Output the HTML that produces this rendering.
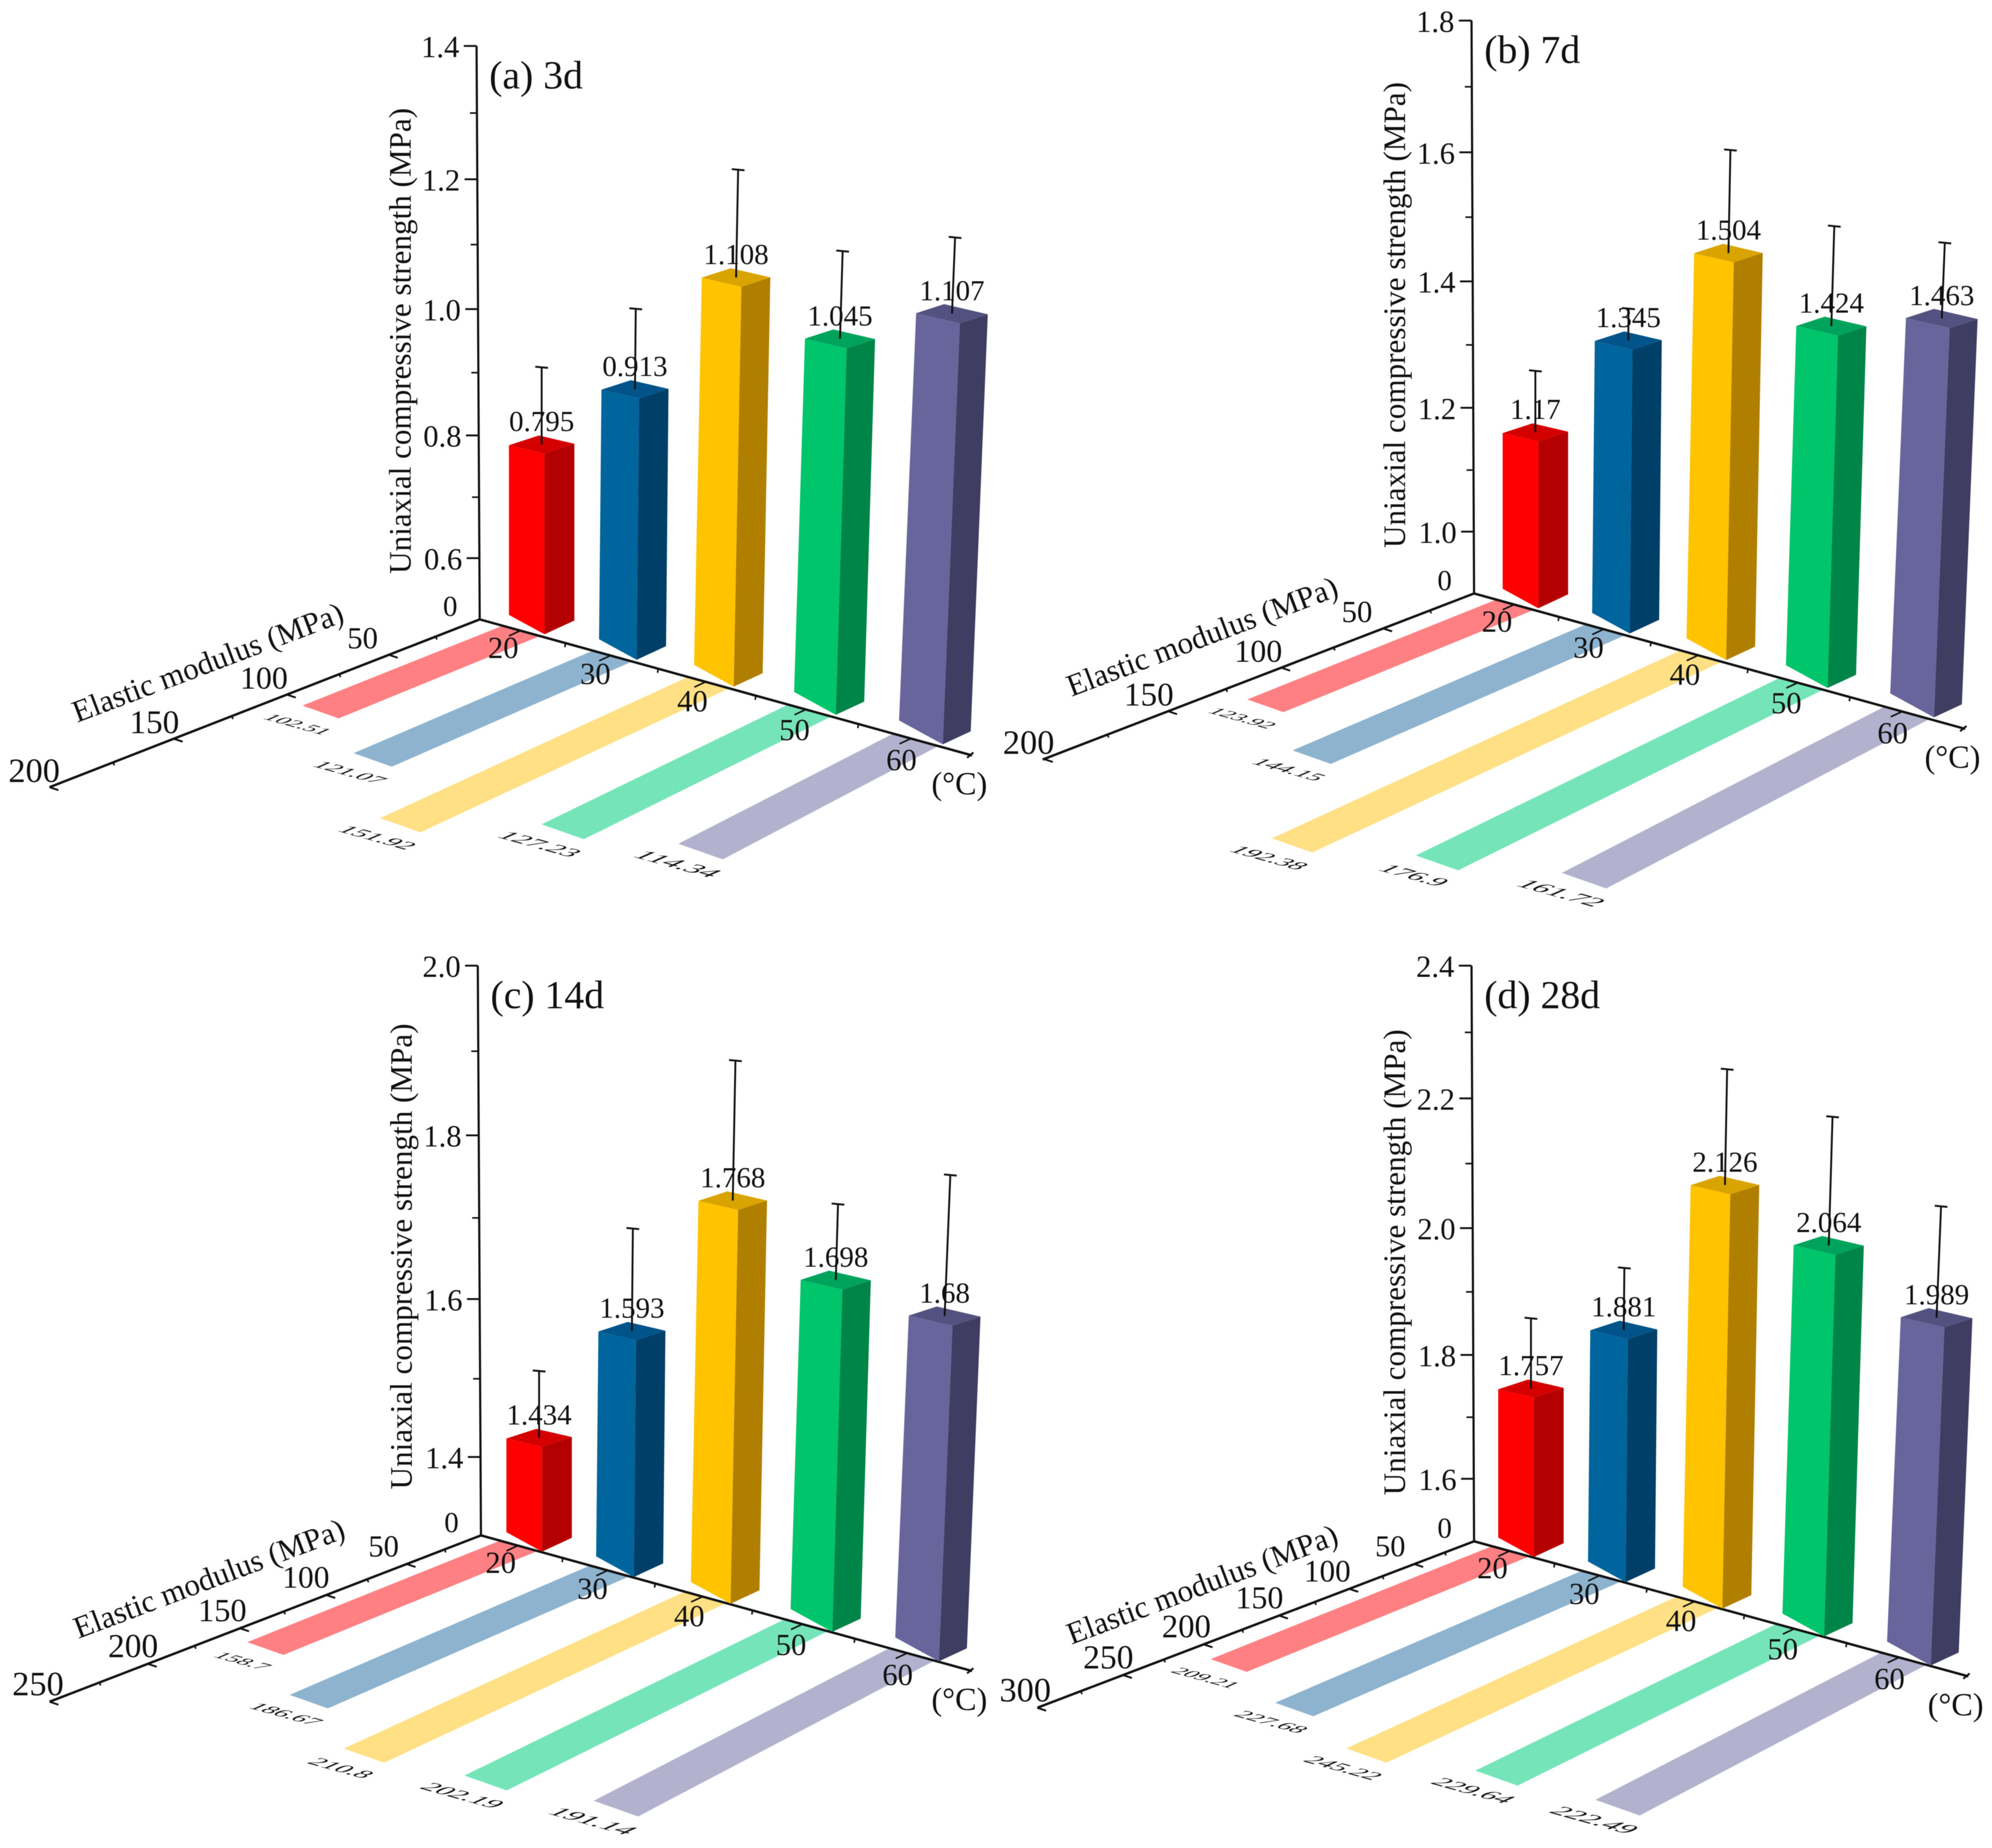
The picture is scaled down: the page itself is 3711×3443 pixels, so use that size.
<!DOCTYPE html>
<html lang="en">
<head>
<meta charset="utf-8">
<title>Uniaxial compressive strength and elastic modulus by temperature</title>
<style>
html,body{margin:0;padding:0;background:#fff;}
svg{display:block;font-family:"Liberation Serif",serif;fill:#111;filter:blur(0.6px);}
</style>
</head>
<body>
<svg id="chart" xmlns="http://www.w3.org/2000/svg" width="3711" height="3443" viewBox="0 0 3711 3443"></svg>
<script>
// ---- Data ----
const temperatures = [20, 30, 40, 50, 60];

const strength3d = [0.795, 0.913, 1.108, 1.045, 1.107];
const error3d = [0.123, 0.123, 0.156, 0.125, 0.105];
const modulus3d = [102.51, 121.07, 151.92, 127.23, 114.34];
const yTicks3d = ["0.6", "0.8", "1.0", "1.2", "1.4"];
const modTicks3d = [50, 100, 150, 200];

const strength7d = [1.17, 1.345, 1.504, 1.424, 1.463];
const error7d = [0.098, 0.049, 0.151, 0.144, 0.106];
const modulus7d = [123.92, 144.15, 192.38, 176.9, 161.72];
const yTicks7d = ["1.0", "1.2", "1.4", "1.6", "1.8"];
const modTicks7d = [50, 100, 150, 200];

const strength14d = [1.434, 1.593, 1.768, 1.698, 1.68];
const error14d = [0.085, 0.123, 0.158, 0.085, 0.153];
const modulus14d = [158.7, 186.67, 210.8, 202.19, 191.14];
const yTicks14d = ["1.4", "1.6", "1.8", "2.0"];
const modTicks14d = [50, 100, 150, 200, 250];

const strength28d = [1.757, 1.881, 2.126, 2.064, 1.989];
const error28d = [0.112, 0.095, 0.168, 0.183, 0.156];
const modulus28d = [209.21, 227.68, 245.22, 229.64, 222.49];
const yTicks28d = ["1.6", "1.8", "2.0", "2.2", "2.4"];
const modTicks28d = [50, 100, 150, 200, 250, 300];

const frontColors = ["#FE0000", "#00659D", "#FFC300", "#00C56B", "#67659B"];
const sideColors = ["#B40000", "#003F68", "#B07F00", "#008548", "#3F3E62"];
const topColors = ["#D40000", "#00548A", "#D9A300", "#00A35C", "#53517F"];
const ribbonColors = ["#FF8082", "#8DB3CE", "#FFE084", "#75E5B9", "#B3B2CE"];

// ---- Panel axis calibration (layout units of a 1568-wide quadrant) ----
const panels = [
  {key:"a", title:"(a) 3d", strength:strength3d, errors:error3d, modulus:modulus3d, yTicks:yTicks3d, modTicks:modTicks3d,
   ox:0, oy:0, hgt:1720, O:[755,1052], top:[750,78], xEnd:[1530,1283], zEnd:[78,1337], firstH:104, curve:0.055, x20:857, step:145, base:-5, depth:0.11, ma:2.685, mb:0.0035, f0:0.035, labDx:0, labDy:0},
  {key:"b", title:"(b) 7d", strength:strength7d, errors:error7d, modulus:modulus7d, yTicks:yTicks7d, modTicks:modTicks7d,
   ox:1856, oy:0, hgt:1720, O:[752,1008], top:[748,35], xEnd:[1525,1238], zEnd:[73,1290], firstH:105, curve:0.041, x20:853, step:144, base:-5, depth:0.105, ma:2.685, mb:0.0035, f0:0.035, labDx:0, labDy:0},
  {key:"c", title:"(c) 14d", strength:strength14d, errors:error14d, modulus:modulus14d, yTicks:yTicks14d, modTicks:modTicks14d,
   ox:0, oy:1720, hgt:1723, O:[757,1038], top:[752,72], xEnd:[1530,1268], zEnd:[78,1320], firstH:133, curve:0.054, x20:853, step:144.5, base:-1, depth:0.115, ma:2.246, mb:0.00188, f0:0.005, labDx:6, labDy:-2},
  {key:"d", title:"(d) 28d", strength:strength28d, errors:error28d, modulus:modulus28d, yTicks:yTicks28d, modTicks:modTicks28d,
   ox:1856, oy:1720, hgt:1723, O:[752,1048], top:[748,72], xEnd:[1530,1277], zEnd:[65,1330], firstH:106, curve:0.046, x20:846, step:144.5, base:-1, depth:0.105, ma:1.80, mb:0.00164, f0:0.005, labDx:5, labDy:-2}
];

const NS = "http://www.w3.org/2000/svg";
const svg = document.getElementById("chart");
const QUAD = 1568;
const FONT_TICK = 57;

function sx(p, x) { return p.ox + x * (1856 / QUAD); }
function sy(p, y) { return p.oy + y * (p.hgt / QUAD); }
function ptStr(p, pts) { return pts.map(function (q) { return sx(p, q[0]).toFixed(1) + "," + sy(p, q[1]).toFixed(1); }).join(" "); }

function makePoly(parent, p, pts, fill) {
  const el = document.createElementNS(NS, "polygon");
  el.setAttribute("points", ptStr(p, pts));
  el.setAttribute("fill", fill);
  parent.appendChild(el);
  return el;
}
function makeLine(parent, p, a, b, w) {
  const el = document.createElementNS(NS, "line");
  el.setAttribute("x1", sx(p, a[0]).toFixed(1));
  el.setAttribute("y1", sy(p, a[1]).toFixed(1));
  el.setAttribute("x2", sx(p, b[0]).toFixed(1));
  el.setAttribute("y2", sy(p, b[1]).toFixed(1));
  el.setAttribute("stroke", "#111");
  el.setAttribute("stroke-width", w);
  parent.appendChild(el);
  return el;
}
// text centred on a layout point; rot in degrees
function makeText(parent, p, x, y, str, size, anchor, rot) {
  const el = document.createElementNS(NS, "text");
  const px = sx(p, x), py = sy(p, y);
  el.setAttribute("x", px.toFixed(1));
  el.setAttribute("y", (py + size * 0.33).toFixed(1));
  el.setAttribute("font-size", size);
  el.setAttribute("text-anchor", anchor || "middle");
  if (rot) { el.setAttribute("transform", "rotate(" + rot + " " + px.toFixed(1) + " " + py.toFixed(1) + ")"); }
  el.textContent = str;
  parent.appendChild(el);
  return el;
}
// text lying on the floor plane: baseline along the temperature axis, glyph "up" along the modulus axis
function makeFloorText(parent, p, x, y, str, size) {
  const el = document.createElementNS(NS, "text");
  const px = sx(p, x), py = sy(p, y);
  const base = 15.4 * Math.PI / 180, up = 23 * Math.PI / 180, squash = 0.8;
  const a = Math.cos(base), b = Math.sin(base);
  const c = -Math.cos(up) * squash, d = Math.sin(up) * squash;
  el.setAttribute("x", "0");
  el.setAttribute("y", (size * 0.33).toFixed(1));
  el.setAttribute("font-size", size);
  el.setAttribute("text-anchor", "middle");
  el.setAttribute("transform", "matrix(" + [a, b, c, d, px, py].map(function (n) { return n.toFixed(4); }).join(" ") + ")");
  el.textContent = str;
  parent.appendChild(el);
  return el;
}
function makeGroup(parent) {
  const g = document.createElementNS(NS, "g");
  parent.appendChild(g);
  return g;
}

// ---- Axis functions ----
function tempU(T) { return (T - temperatures[0]) / (temperatures[1] - temperatures[0]); }
function cornerX(p, T) { const u = tempU(T); return p.x20 + p.step * u + 3.9 * u * (u - 1); }
function tempAxisY(p, x) { return p.O[1] + (x - p.O[0]) * (p.xEnd[1] - p.O[1]) / (p.xEnd[0] - p.O[0]); }
function modDx(p, m) { return m * (p.ma + p.mb * m); }
function heightOf(p, v) {
  const v0 = parseFloat(p.yTicks[0]);
  const vTop = parseFloat(p.yTicks[p.yTicks.length - 1]);
  const H = (p.O[1] - p.top[1]) - p.firstH;
  if (v <= v0) { return Math.max(0, v / v0) * p.firstH; }
  const u = (v - v0) / (vTop - v0);
  return p.firstH + H * (u + p.curve * u * (u - 1));
}
function depthScale(p, x) { return 1 + p.depth * (x - p.x20) / 627; }
function yAxisPoint(p, v) {
  const h = heightOf(p, v);
  const f = h / (p.O[1] - p.top[1]);
  return [p.O[0] + (p.top[0] - p.O[0]) * f, p.O[1] - h];
}

function drawAxes(p, g) {
  const yAxis = makeLine(g, p, p.O, p.top, 4);
  
  
  const tAxis = makeLine(g, p, p.O, p.xEnd, 4.5);
  
  
  const mAxis = makeLine(g, p, p.O, p.zEnd, 4.5);
  
  

  const tEndMark = makeLine(g, p, [p.xEnd[0] - 8, p.xEnd[1] + 4], [p.xEnd[0] + 2, p.xEnd[1] - 5], 3.5);
  
  

  // strength ticks
  p.yTicks.forEach(function (label, i) {
    const v = parseFloat(label);
    const a = yAxisPoint(p, v);
    const t = makeLine(g, p, a, [a[0] - 20, a[1]], 3.5);
    
    
    const lab = makeText(g, p, a[0] - 27, a[1] + 2, label, FONT_TICK, "end");
    
    
    if (i < p.yTicks.length - 1) {
      const next = parseFloat(p.yTicks[i + 1]);
      const m = yAxisPoint(p, (v + next) / 2);
      const mt = makeLine(g, p, m, [m[0] - 11, m[1]], 3);
      
      
    }
  });
  const zero = makeText(g, p, p.O[0] - 35, p.O[1] - 22, "0", FONT_TICK - 3, "end");
  
  

  // modulus ticks
  const mSlope = (p.zEnd[1] - p.O[1]) / (p.O[0] - p.zEnd[0]);
  const mMax = p.modTicks[p.modTicks.length - 1];
  function modPoint(m) { const d = modDx(p, m); return [p.O[0] - d, p.O[1] + d * mSlope]; }
  p.modTicks.forEach(function (m, i) {
    const a = modPoint(m);
    const t = makeLine(g, p, a, [a[0] + 14, a[1] + 5], 3.5);
    
    
    const prev = i === 0 ? 0 : p.modTicks[i - 1];
    const mid = modPoint((m + prev) / 2);
    const mt = makeLine(g, p, mid, [mid[0] + 2, mid[1] + 5], 3);
    
    
    const lab = makeText(g, p, a[0] - (24 + 0.032 * (a[0] - 70)) + p.labDx, a[1] - 28 + p.labDy, String(m), 55 + 9 * m / mMax);
    
    
  });

  // temperature ticks
  temperatures.forEach(function (T, i) {
    const cx = cornerX(p, T);
    const tx = cx - (38 + 3 * i);
    const a = [tx, tempAxisY(p, tx)];
    const t = makeLine(g, p, a, [a[0] - 18, a[1] + 9], 3);
    
    
    const lab = makeText(g, p, cx - 65, tempAxisY(p, cx) + 18 + i, String(T), FONT_TICK);
    
    
    if (i < temperatures.length - 1) {
      const nx = cornerX(p, temperatures[i + 1]) - (38 + 3 * (i + 1));
      const mx = (tx + nx) / 2;
      const my = tempAxisY(p, mx);
      const mt = makeLine(g, p, [mx, my], [mx - 1, my + 7], 3);
      
      
    }
  });

  const unit = makeText(g, p, p.xEnd[0] - 20, p.xEnd[1] + 48, "(°C)", 60);
  
  

  const yTitle = makeText(g, p, p.O[0] - 125, p.O[1] - 473, "Uniaxial compressive strength (MPa)", 58, "middle", -90);
  
  

  const zTitle = makeText(g, p, p.O[0] - 428, p.O[1] + 73, "Elastic modulus (MPa)", 58, "middle", -20.7);
  
  

  const panelLabel = makeText(g, p, p.top[0] + 20, p.top[1] + 50, p.title, 74, "start");
  
  
}

function ribbonEnd(p, T, i) {
  const Ax = cornerX(p, T) - 7;
  const Ay = tempAxisY(p, Ax);
  const dx = modDx(p, p.modulus[i]) * (1 + p.f0 - 0.014 * i);
  const dy = dx * (0.439 + 0.031 * i);
  return {Ax: Ax, Ay: Ay, Dx: Ax - dx + 6, Dy: Ay - 2 + dy, we: 57 + 3.2 * i};
}

function drawRibbons(p, g) {
  temperatures.forEach(function (T, i) {
    const e = ribbonEnd(p, T, i);
    const Bx = e.Ax - (59 + 3 * i);
    const r = makePoly(g, p, [[e.Ax, e.Ay], [Bx, tempAxisY(p, Bx)], [e.Dx - e.we, e.Dy - 0.38 * e.we], [e.Dx, e.Dy]], ribbonColors[i]);
    
    
  });
}

function drawRibbonLabels(p, g) {
  temperatures.forEach(function (T, i) {
    const e = ribbonEnd(p, T, i);
    const mx = e.Dx - e.we / 2;
    const my = e.Dy - 0.19 * e.we;
    const lab = makeFloorText(g, p, mx - 36, my + 21, String(p.modulus[i]), 43 + 3.2 * i);
    
    
  });
}

function drawBars(p, g) {
  temperatures.forEach(function (T, i) {
    const v = p.strength[i];
    const Fx = cornerX(p, T);
    const Fy = tempAxisY(p, Fx) + p.base;
    const s = depthScale(p, Fx);
    const k = (Fx - p.x20) * 6e-5;
    const h = heightOf(p, v) * s;
    const Tx = Fx + k * h, Ty = Fy - h;
    const w = 56 + 3.2 * i, w2 = 47 - 0.75 * i;

    const bar = makeGroup(g);
    
    

    const front = makePoly(bar, p, [[Fx - w, Fy - 0.59 * w], [Fx, Fy], [Tx, Ty], [Tx - w, Ty - 0.25 * w]], frontColors[i]);
    
    
    const side = makePoly(bar, p, [[Fx, Fy], [Fx + w2, Fy - 0.5 * w2], [Tx + w2, Ty - 0.35 * w2], [Tx, Ty]], sideColors[i]);
    
    
    const top = makePoly(bar, p, [[Tx, Ty], [Tx - w, Ty - 0.25 * w], [Tx - w + w2, Ty - 0.25 * w - 0.35 * w2], [Tx + w2, Ty - 0.35 * w2]], topColors[i]);
    
    

    const Cx = Tx + (w2 - w) / 2;
    const Cy = Ty - (0.25 * w + 0.35 * w2) / 2;
    const val = makeText(bar, p, Cx, Cy - 39, String(v), 54);
    
    

    const L = (heightOf(p, v + p.errors[i]) - heightOf(p, v)) * s;
    const Ex = Cx + k * L, Ey = Cy - L;
    const stem = makeLine(bar, p, [Cx, Cy], [Ex, Ey], 3.5);
    
    
    const cap = makeLine(bar, p, [Ex - 10, Ey - 1], [Ex + 10, Ey + 1], 3.5);
    
    
  });
}

panels.forEach(function (p) {
  const panel = makeGroup(svg);
  
  
  drawRibbons(p, panel);
  drawAxes(p, panel);
  drawBars(p, panel);
  drawRibbonLabels(p, panel);
});
</script>
</body>
</html>
